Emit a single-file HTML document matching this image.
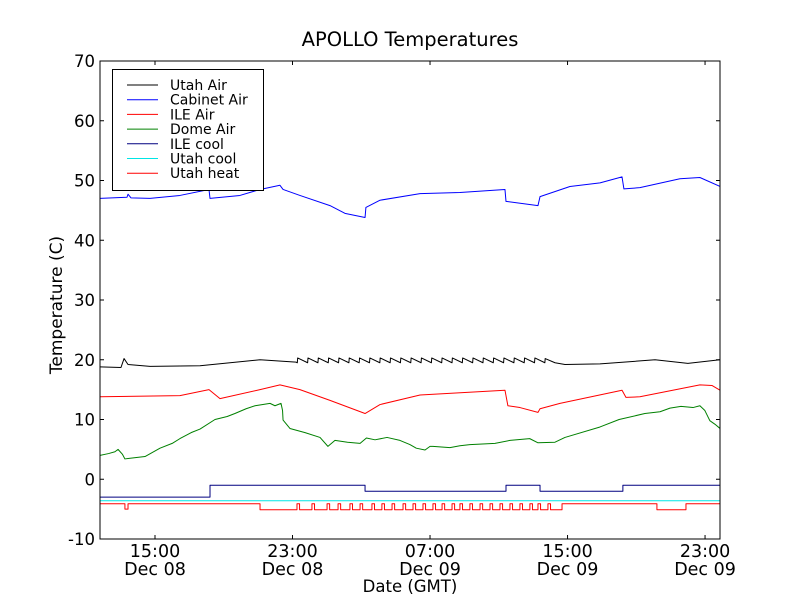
<!DOCTYPE html>
<html><head><meta charset="utf-8"><style>
body{margin:0;background:#fff;}
svg{display:block;font-family:"DejaVu Sans","Liberation Sans",sans-serif;}
</style></head><body>
<svg id="chart" width="800" height="600">
<rect width="800" height="600" fill="#fff"/>
<text x="410" y="46" text-anchor="middle" font-size="19.5">APOLLO Temperatures</text>
<g id="plot"></g>
<rect x="100" y="61" width="620" height="478" fill="none" stroke="#000" stroke-width="1"/>
<text x="410" y="592" text-anchor="middle" font-size="16.5">Date (GMT)</text>
<text transform="translate(62,305) rotate(-90)" text-anchor="middle" font-size="17">Temperature (C)</text>
<g id="legend"></g>
</svg>
<script>
const xTicks=[15,23,31,39,47];
const xTickTimes=["15:00","23:00","07:00","15:00","23:00"];
const xTickDates=["Dec 08","Dec 08","Dec 09","Dec 09","Dec 09"];
const yTicks=[-10,0,10,20,30,40,50,60,70];
const seriesNames=["Utah Air","Cabinet Air","ILE Air","Dome Air","ILE cool","Utah cool","Utah heat"];
const seriesColors=["#000000","#0000ff","#ff0000","#008000","#000080","#00e5e5","#ff0000"];

const utahAirT=[11.8,13.02,13.2,13.43,14.71,17.62,21.11,23.2,
23.28,23.3,23.88,23.9,24.48,24.5,25.08,25.1,25.68,25.7,26.28,26.3,26.88,26.9,27.48,27.5,28.08,28.1,28.68,28.7,29.28,29.3,29.88,29.9,30.48,30.5,31.08,31.1,31.68,31.7,32.28,32.3,32.88,32.9,33.48,33.5,34.08,34.1,34.68,34.7,35.28,35.3,35.88,35.9,36.48,36.5,37.08,37.1,37.68,37.7,
38.27,38.85,40.89,44.09,46.0,47.87];
const utahAirV=[18.8,18.7,20.2,19.2,18.9,19.0,20.0,19.6,
19.5,20.3,19.5,20.3,19.5,20.3,19.5,20.3,19.5,20.3,19.5,20.3,19.5,20.3,19.5,20.3,19.5,20.3,19.5,20.3,19.5,20.3,19.5,20.3,19.5,20.3,19.5,20.3,19.5,20.3,19.5,20.3,19.5,20.3,19.5,20.3,19.5,20.3,19.5,20.3,19.5,20.3,19.5,20.3,19.5,20.3,19.5,20.3,19.5,20.2,
19.5,19.2,19.3,20.0,19.4,20.0];

const cabinetT=[11.8,13.37,13.43,13.6,14.71,16.45,18.14,18.2,19.94,21.11,22.27,22.45,23.43,25.18,26.05,27.22,27.27,28.09,30.42,32.74,35.36,35.42,37.28,37.4,39.14,40.89,42.17,42.28,43.21,45.54,46.7,47.87];
const cabinetV=[47.0,47.2,47.7,47.1,47.0,47.5,48.5,47.0,47.5,48.5,49.2,48.5,47.5,45.8,44.5,43.8,45.5,46.7,47.8,48.0,48.5,46.5,45.8,47.3,49.0,49.6,50.6,48.6,48.8,50.3,50.5,49.0];

const ileAirT=[11.8,16.45,18.14,18.78,21.11,22.27,23.43,25.18,27.22,28.09,30.42,35.36,35.53,36.23,37.28,37.4,38.56,42.17,42.4,43.21,46.7,47.4,47.87];
const ileAirV=[13.8,14.0,15.0,13.5,15.0,15.8,15.0,13.2,11.0,12.5,14.1,14.9,12.3,12.0,11.2,11.8,12.7,14.9,13.7,13.8,15.8,15.7,14.9];

const domeT=[11.8,12.3,12.67,12.85,13.1,13.25,13.8,14.42,15.29,16.0,16.45,17.1,17.62,18.49,19.2,19.65,20.3,20.82,21.69,21.98,22.33,22.42,22.45,22.85,23.73,24.6,25.06,25.47,26.2,26.93,27.3,27.8,28.5,29.25,29.83,30.2,30.71,31.0,31.17,32.16,32.74,33.32,34.78,35.65,36.8,37.28,38.27,38.85,40.89,42.0,43.5,44.38,44.96,45.6,46.3,46.7,46.99,47.28,47.58,47.87];
const domeV=[4.0,4.3,4.6,5.0,4.2,3.4,3.6,3.8,5.2,6.0,6.8,7.8,8.4,10.0,10.5,11.0,11.8,12.3,12.7,12.3,12.7,11.5,9.9,8.5,7.8,7.0,5.5,6.5,6.2,6.0,6.9,6.6,7.0,6.5,5.8,5.2,4.9,5.5,5.5,5.3,5.6,5.8,6.0,6.5,6.8,6.1,6.2,7.0,8.75,10.0,11.0,11.3,11.9,12.2,12.0,12.3,11.5,9.8,9.2,8.5];

const ileCoolT=[11.8,18.2,27.22,35.42,37.4,42.22,47.87];
const ileCoolV=[-3,-1,-2,-1,-2,-1,-1];

const utahCoolT=[11.8,47.87];
const utahCoolV=[-3.6,-3.6];

const utahHeatT=[11.8,13.25,13.43,21.11,23.26,23.41,24.13,24.28,25.01,25.16,25.65,25.8,26.34,26.49,26.93,27.08,27.62,27.77,28.2,28.35,28.79,28.94,29.43,29.58,30.01,30.16,30.59,30.74,31.17,31.32,31.7,31.85,32.28,32.43,32.74,32.89,33.32,33.47,33.91,34.06,34.49,34.64,35.07,35.22,35.65,35.8,36.23,36.38,36.81,36.96,37.28,37.43,37.86,38.01,38.68,44.2,45.89,47.87];
const utahHeatV=[-4.1,-5.0,-4.1,-5.1,-4.1,-5.1,-4.1,-5.1,-4.1,-5.1,-4.1,-5.1,-4.1,-5.1,-4.1,-5.1,-4.1,-5.1,-4.1,-5.1,-4.1,-5.1,-4.1,-5.1,-4.1,-5.1,-4.1,-5.1,-4.1,-5.1,-4.1,-5.1,-4.1,-5.1,-4.1,-5.1,-4.1,-5.1,-4.1,-5.1,-4.1,-5.1,-4.1,-5.1,-4.1,-5.1,-4.1,-5.1,-4.1,-5.1,-4.1,-5.1,-4.1,-5.1,-4.1,-5.1,-4.1,-4.1];

const X0=100,X1=720,Y0=539,Y1=61,TMIN=11.8,TMAX=47.87,VMIN=-10,VMAX=70;
function xs(t){return X0+(t-TMIN)/(TMAX-TMIN)*(X1-X0);}
function ys(v){return Y0-(v-VMIN)/(VMAX-VMIN)*(Y0-Y1);}
const NS="http://www.w3.org/2000/svg";
const plot=document.getElementById('plot');
function mk(tag,attrs,parent){const e=document.createElementNS(NS,tag);for(const k in attrs)e.setAttribute(k,attrs[k]);parent.appendChild(e);return e;}
function linePath(T,V){return T.map((t,i)=>(i?'L':'M')+xs(t).toFixed(2)+','+ys(V[i]).toFixed(2)).join('');}
function stepPath(T,V){let d='M'+xs(T[0]).toFixed(2)+','+ys(V[0]).toFixed(2);for(let i=1;i<T.length;i++){d+='L'+xs(T[i]).toFixed(2)+','+ys(V[i-1]).toFixed(2)+'L'+xs(T[i]).toFixed(2)+','+ys(V[i]).toFixed(2);}return d;}
const clip=mk('clipPath',{id:'pc'},plot);mk('rect',{x:X0,y:Y1,width:X1-X0,height:Y0-Y1},clip);
const g=mk('g',{'clip-path':'url(#pc)'},plot);
const defs=[[utahAirT,utahAirV,0,false,'utah-air-line'],[cabinetT,cabinetV,1,false,'cabinet-air-line'],[ileAirT,ileAirV,2,false,'ile-air-line'],[domeT,domeV,3,false,'dome-air-line'],[ileCoolT,ileCoolV,4,true,'ile-cool-line'],[utahCoolT,utahCoolV,5,false,'utah-cool-line'],[utahHeatT,utahHeatV,6,true,'utah-heat-line']];
defs.forEach(s=>{
  const p=mk('path',{d:s[3]?stepPath(s[0],s[1]):linePath(s[0],s[1]),fill:'none',stroke:seriesColors[s[2]],'stroke-width':1,'stroke-linejoin':'round'},g);
  
  
});
xTicks.forEach((t,i)=>{
  const x=xs(t);
  mk('line',{x1:x,x2:x,y1:Y0,y2:Y0-4,stroke:'#000'},plot);
  mk('line',{x1:x,x2:x,y1:Y1,y2:Y1+4,stroke:'#000'},plot);
  const a=mk('text',{x:x,y:557,'text-anchor':'middle','font-size':17.5},plot);a.textContent=xTickTimes[i];
  
  
  const b=mk('text',{x:x,y:575,'text-anchor':'middle','font-size':17.5},plot);b.textContent=xTickDates[i];
  
  
});
yTicks.forEach(v=>{
  const y=ys(v);
  mk('line',{x1:X0,x2:X0+4,y1:y,y2:y,stroke:'#000'},plot);
  mk('line',{x1:X1,x2:X1-4,y1:y,y2:y,stroke:'#000'},plot);
  const a=mk('text',{x:95,y:y+6,'text-anchor':'end','font-size':16.5},plot);a.textContent=v;
  
  
});
const lg=document.getElementById('legend');
mk('rect',{x:112.5,y:69.5,width:151,height:121,fill:'#fff',stroke:'#000'},lg);
seriesNames.forEach((n,i)=>{
  const y=85+i*14.7;
  const l=mk('line',{x1:127,x2:158,y1:y,y2:y,stroke:seriesColors[i]},lg);
  
  
  const t=mk('text',{x:170,y:y+5,'font-size':14},lg);t.textContent=n;
  
  
});
</script>
</body></html>
